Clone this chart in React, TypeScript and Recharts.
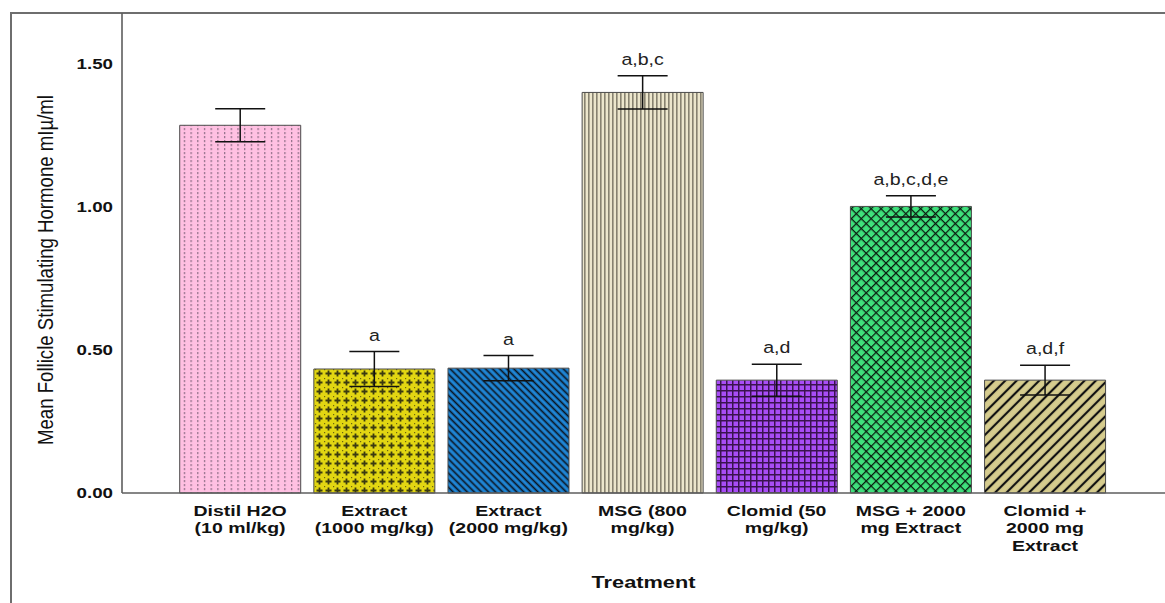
import { BarChart, Bar, XAxis, YAxis, Cell, ErrorBar, LabelList } from "recharts";

const categories = [
  "Distil H2O (10 ml/kg)",
  "Extract (1000 mg/kg)",
  "Extract (2000 mg/kg)",
  "MSG (800 mg/kg)",
  "Clomid (50 mg/kg)",
  "MSG + 2000 mg Extract",
  "Clomid + 2000 mg Extract",
];
const tickLines = [
  ["Distil H2O", "(10 ml/kg)"],
  ["Extract", "(1000 mg/kg)"],
  ["Extract", "(2000 mg/kg)"],
  ["MSG (800", "mg/kg)"],
  ["Clomid (50", "mg/kg)"],
  ["MSG + 2000", "mg Extract"],
  ["Clomid +", "2000 mg", "Extract"],
];
const means = [1.287, 0.434, 0.437, 1.402, 0.395, 1.003, 0.395];
const errors = [0.058, 0.061, 0.044, 0.058, 0.056, 0.037, 0.052];
const letters = ["", "a", "a", "a,b,c", "a,d", "a,b,c,d,e", "a,d,f"];
const yTicks = [0, 0.5, 1, 1.5];
const fills = ["url(#pPink)", "url(#pYellow)", "url(#pBlue)", "url(#pBeige)", "url(#pPurple)", "url(#pGreen)", "url(#pKhaki)"];

const data = categories.map((c, i) => ({ name: c, mean: means[i], err: errors[i] }));

const FONT = "'Liberation Sans', Arial, sans-serif";

function XTick(props: any) {
  const { x, y, payload } = props;
  const lines = tickLines[payload.index] || [payload.value];
  return (
    <g transform={`translate(${x},${y})`}>
      {lines.map((l, i) => (
        <text
          key={i}
          x={0}
          y={i * 17.5 + 15}
          textAnchor="middle"
          fontFamily={FONT}
          fontWeight="bold"
          fontSize={15}
          fill="#111"
          transform="scale(1.3,1)"
        >
          {l}
        </text>
      ))}
    </g>
  );
}

function YTick(props: any) {
  const { x, y, payload } = props;
  return (
    <g transform={`translate(${x - 1},${y})`}>
      <text x={0} y={5} textAnchor="end" fontFamily={FONT} fontWeight="bold" fontSize={15} fill="#111" transform="scale(1.25,1)">
        {payload.value.toFixed(2)}
      </text>
    </g>
  );
}

function YLabel(props: any) {
  const vb = props.viewBox || {};
  const cx = vb.x + 45;
  const cy = vb.y + vb.height / 2 + 17;
  return (
    <text
      transform={`translate(${cx},${cy}) rotate(-90) scale(1,1.3)`}
      textAnchor="middle"
      dominantBaseline="central"
      fontFamily={FONT}
      fontSize={17}
      fill="#111"
      textLength={350}
      lengthAdjust="spacingAndGlyphs"
    >
      Mean Follicle Stimulating Hormone mIµ/ml
    </text>
  );
}

function XLabel(props: any) {
  const vb = props.viewBox || {};
  const cx = vb.x + vb.width / 2;
  return (
    <text
      transform={`translate(${cx},${588}) scale(1.28,1)`}
      textAnchor="middle"
      fontFamily={FONT}
      fontWeight="bold"
      fontSize={17}
      fill="#111"
    >
      Treatment
    </text>
  );
}

function Letters(props: any) {
  const vb = props.viewBox || props;
  const { x, y, width, height } = vb;
  const i = props.index ?? 0;
  const txt = letters[i];
  if (!txt) return null;
  const pxPerUnit = height / means[i];
  const top = y - errors[i] * pxPerUnit;
  return (
    <text
      transform={`translate(${x + width / 2},${top - 11}) scale(1.15,1)`}
      textAnchor="middle"
      fontFamily={FONT}
      fontSize={17}
      fill="#222"
    >
      {txt}
    </text>
  );
}

export default function App() {
  return (
    <div style={{ position: "absolute", left: 0, top: 0, width: 1165, height: 603, background: "#fff", overflow: "hidden" }}>
      <div
        style={{
          position: "absolute",
          left: 10,
          top: 12,
          width: 1160,
          height: 600,
          borderLeft: "2px solid #6e6e6e",
          borderTop: "2px solid #6e6e6e",
        }}
      />
      <div style={{ position: "absolute", left: 0, top: 0 }}>
        <BarChart width={1165} height={603} data={data} margin={{ top: 13, right: 0, left: 0, bottom: 0 }} barCategoryGap="5%">
          <defs>
            <pattern id="pPink" width="6.7" height="4" patternUnits="userSpaceOnUse">
              <rect width="6.7" height="4" fill="#FFC0E2" />
              <rect x="3" y="0" width="1.1" height="2.2" fill="#85677f" />
            </pattern>
            <pattern id="pYellow" width="9" height="9" patternUnits="userSpaceOnUse">
              <rect width="9" height="9" fill="#E2D612" />
              <path d="M4.5 1.5v6M1.5 4.5h6" stroke="#3b3a10" strokeWidth="1.8" />
              <rect x="0" y="0" width="1.2" height="1.2" fill="#6b6410" />
            </pattern>
            <pattern id="pBlue" width="5" height="5" patternUnits="userSpaceOnUse" patternTransform="rotate(45)">
              <rect width="5" height="5" fill="#1F86D6" />
              <line x1="0" y1="2.5" x2="5" y2="2.5" stroke="#0b1420" strokeWidth="1.7" />
            </pattern>
            <pattern id="pBeige" width="4" height="4" patternUnits="userSpaceOnUse">
              <rect width="4" height="4" fill="#ECE6CC" />
              <rect x="0" y="0" width="1.6" height="4" fill="#878270" />
            </pattern>
            <pattern id="pPurple" width="6" height="6" patternUnits="userSpaceOnUse">
              <rect width="6" height="6" fill="#A84DF7" />
              <path d="M0 0.75h6M0.75 0v6" stroke="#3a1350" strokeWidth="1.5" />
            </pattern>
            <pattern id="pGreen" width="7" height="7" patternUnits="userSpaceOnUse" patternTransform="rotate(45)">
              <rect width="7" height="7" fill="#3FE07C" />
              <path d="M0 0.6h7M0.6 0v7" stroke="#0a1a0e" strokeWidth="1.3" />
            </pattern>
            <pattern id="pKhaki" width="8" height="8" patternUnits="userSpaceOnUse" patternTransform="rotate(-45)">
              <rect width="8" height="8" fill="#D6CC8E" />
              <line x1="0" y1="4" x2="8" y2="4" stroke="#111" strokeWidth="2.2" />
            </pattern>
          </defs>
          <XAxis
            dataKey="name"
            height={110}
            padding={{ left: 51, right: 53 }}
            tickLine={false}
            axisLine={{ stroke: "#5e5e5e", strokeWidth: 1.6 }}
            tick={<XTick />}
            interval={0}
            label={<XLabel />}
          />
          <YAxis
            width={122}
            domain={[0, 1.68]}
            ticks={yTicks}
            tickLine={false}
            axisLine={{ stroke: "#5e5e5e", strokeWidth: 1.6 }}
            tick={<YTick />}
            label={<YLabel />}
          />
          <Bar dataKey="mean" stroke="#4a4a4a" strokeWidth={1} isAnimationActive={false}>
            {data.map((d, i) => (
              <Cell key={i} fill={fills[i]} />
            ))}
            <ErrorBar dataKey="err" width={25} stroke="#111" strokeWidth={1.5} />
            <LabelList dataKey="mean" content={<Letters />} />
          </Bar>
        </BarChart>
      </div>
    </div>
  );
}
